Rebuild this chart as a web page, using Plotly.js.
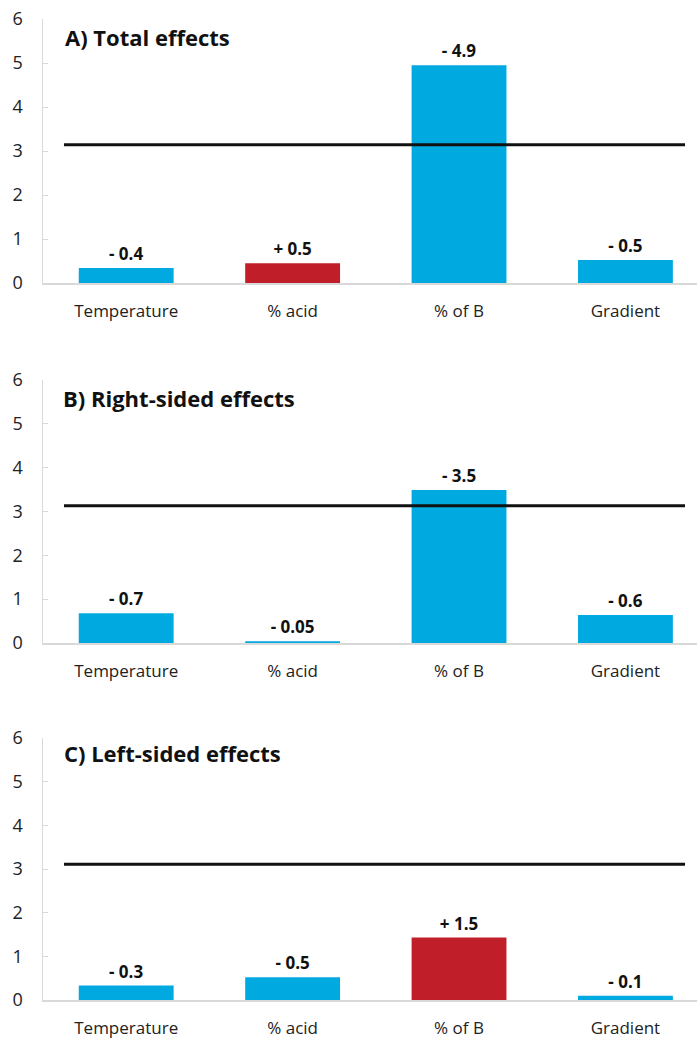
<!DOCTYPE html>
<html>
<head>
<meta charset="utf-8">
<script src="https://cdn.plot.ly/plotly-3.0.1.min.js"></script>
<style>html,body{margin:0;padding:0;background:#fff;}#chart{width:697px;height:1038px;}</style>
</head>
<body>
<div id="chart"></div>
<script>
const categories = ["Temperature", "% acid", "% of B", "Gradient"];
const panelTitles = ["A) Total effects", "B) Right-sided effects", "C) Left-sided effects"];
const totalValues = [0.34, 0.45, 4.95, 0.52];
const totalLabels = ["- 0.4", "+ 0.5", "- 4.9", "- 0.5"];
const rightValues = [0.68, 0.04, 3.49, 0.64];
const rightLabels = ["- 0.7", "- 0.05", "- 3.5", "- 0.6"];
const leftValues = [0.33, 0.52, 1.43, 0.10];
const leftLabels = ["- 0.3", "- 0.5", "+ 1.5", "- 0.1"];
const thresholds = [3.14, 3.13, 3.11];
const yTicks = [0, 1, 2, 3, 4, 5, 6];

const BLUE = "#00A9E0", RED = "#C01F29";
const FONT = "Open Sans, sans-serif";
const H = 1038, W = 697, L = 43;

const panels = [
  {vals: totalValues, labels: totalLabels, top: 19, bottom: 283, titleX: 63, titleY: 37},
  {vals: rightValues, labels: rightLabels, top: 380, bottom: 643, titleX: 61, titleY: 398},
  {vals: leftValues, labels: leftLabels, top: 738, bottom: 1000, titleX: 62, titleY: 753}
];

const data = [];
const layout = {
  width: W, height: H,
  margin: {l: L, r: 0, t: 0, b: 0},
  paper_bgcolor: "#fff", plot_bgcolor: "#fff",
  showlegend: false,
  font: {family: FONT, color: "#222"},
  annotations: [], shapes: []
};

panels.forEach((p, i) => {
  const sfx = i === 0 ? "" : String(i + 1);
  data.push({
    type: "bar",
    x: categories,
    y: p.vals,
    xaxis: "x" + sfx, yaxis: "y" + sfx,
    marker: {color: p.labels.map(s => s.trim().startsWith("+") ? RED : BLUE)},
    width: 0.57,
    text: p.labels,
    textposition: "outside",
    cliponaxis: false,
    textfont: {family: FONT, size: 17, color: "#111", weight: "bold"},
    hoverinfo: "skip"
  });
  const domain = [1 - p.bottom / H, 1 - p.top / H];
  layout["xaxis" + sfx] = {
    anchor: "y" + sfx,
    domain: [0, 1],
    type: "category",
    range: [-0.5, 3.43],
    showline: true, linecolor: "#d9d9d9", linewidth: 1.5,
    ticks: "", showgrid: false, zeroline: false,
    ticklabelstandoff: 12,
    tickfont: {family: FONT, size: 17, color: "#222"}
  };
  layout["yaxis" + sfx] = {
    anchor: "x" + sfx,
    domain: domain,
    range: [0, 6],
    tickvals: yTicks,
    showline: true, linecolor: "#d9d9d9", linewidth: 1.5,
    ticks: "inside", ticklen: 5, tickcolor: "#d9d9d9",
    showgrid: false, zeroline: false,
    ticklabelstandoff: 15,
    tickfont: {family: FONT, size: 18, color: "#222"}
  };
  layout.shapes.push({
    type: "line", xref: "x" + sfx, yref: "y" + sfx,
    x0: -0.374, x1: 3.358, y0: thresholds[i], y1: thresholds[i],
    line: {color: "#111", width: 3}
  });
  layout.annotations.push({
    xref: "paper", yref: "paper",
    x: (p.titleX - L) / (W - L), y: 1 - p.titleY / H,
    xanchor: "left", yanchor: "middle",
    text: "<b>" + panelTitles[i] + "</b>",
    showarrow: false,
    font: {family: FONT, size: 22, color: "#111"}
  });
});

Plotly.newPlot("chart", data, layout, {displayModeBar: false, staticPlot: true});
</script>
</body>
</html>
